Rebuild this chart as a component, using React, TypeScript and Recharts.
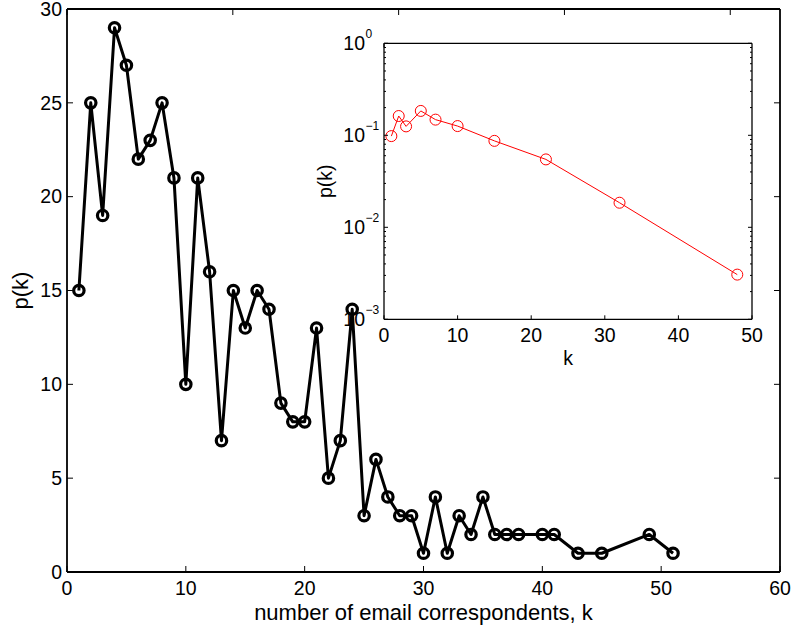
import React from 'react';
import { LineChart, Line, XAxis, YAxis, CartesianGrid, Label } from 'recharts';

// ---- Main chart data ----
const mainK = [1, 2, 3, 4, 5, 6, 7, 8, 9, 10, 11, 12, 13, 14, 15, 16, 17, 18, 19, 20, 21, 22, 23, 24, 25, 26, 27, 28, 29, 30, 31, 32, 33, 34, 35, 36, 37, 38, 40, 41, 43, 45, 49, 51];
const mainCount = [15, 25, 19, 29, 27, 22, 23, 25, 21, 10, 21, 16, 7, 15, 13, 15, 14, 9, 8, 8, 13, 5, 7, 14, 3, 6, 4, 3, 3, 1, 4, 1, 3, 2, 4, 2, 2, 2, 2, 2, 1, 1, 2, 1];
const mainXTicks = [0, 10, 20, 30, 40, 50, 60];
const mainYTicks = [0, 5, 10, 15, 20, 25, 30];

// ---- Inset data ----
const insetK = [1, 2, 3, 5, 7, 10, 15, 22, 32, 48];
const insetPk = [0.098, 0.162, 0.125, 0.184, 0.148, 0.126, 0.087, 0.0547, 0.0185, 0.00306];
const insetXTicks = [0, 10, 20, 30, 40, 50];
const insetYTicks = [
  0.001, 0.002, 0.003, 0.004, 0.005, 0.006, 0.007, 0.008, 0.009,
  0.01, 0.02, 0.03, 0.04, 0.05, 0.06, 0.07, 0.08, 0.09,
  0.1, 0.2, 0.3, 0.4, 0.5, 0.6, 0.7, 0.8, 0.9, 1,
];

const mainData = mainK.map((k, i) => ({ k, count: mainCount[i] }));
const insetData = insetK.map((k, i) => ({ k, pk: insetPk[i] }));

const FONT = '"Liberation Sans", Arial, Helvetica, sans-serif';
const TICK_FS = 19.5;

const isMajor = (v: number) => {
  const l = Math.log10(v);
  return Math.abs(l - Math.round(l)) < 1e-6;
};

// ---- tick renderers (inward tick marks, outward labels) ----
const MainXTick = (p: any) => (
  <g>
    <line x1={p.x} y1={p.y} x2={p.x} y2={p.y - 6} stroke="#000" strokeWidth={1} />
    <text x={p.x} y={p.y + 23} textAnchor="middle" fontSize={TICK_FS} fontFamily={FONT} fill="#000">
      {p.payload.value}
    </text>
  </g>
);
const MainTopTick = (p: any) => (
  <line x1={p.x} y1={p.y} x2={p.x} y2={p.y + 6} stroke="#000" strokeWidth={1} />
);
const MainYTick = (p: any) => (
  <g>
    <line x1={p.x} y1={p.y} x2={p.x + 6} y2={p.y} stroke="#000" strokeWidth={1} />
    <text x={p.x - 5} y={p.y + 6.8} textAnchor="end" fontSize={TICK_FS} fontFamily={FONT} fill="#000">
      {p.payload.value}
    </text>
  </g>
);
const MainRightTick = (p: any) => (
  <line x1={p.x} y1={p.y} x2={p.x - 6} y2={p.y} stroke="#000" strokeWidth={1} />
);

const InsetXTick = (p: any) => (
  <g>
    <line x1={p.x} y1={p.y} x2={p.x} y2={p.y - 4} stroke="#000" strokeWidth={1} />
    <text x={p.x} y={p.y + 22.7} textAnchor="middle" fontSize={TICK_FS} fontFamily={FONT} fill="#000">
      {p.payload.value}
    </text>
  </g>
);
const InsetTopTick = (p: any) => (
  <line x1={p.x} y1={p.y} x2={p.x} y2={p.y + 4} stroke="#000" strokeWidth={1} />
);
const InsetYTick = (p: any) => {
  const v = p.payload.value;
  const major = isMajor(v);
  const e = Math.round(Math.log10(v));
  return (
    <g>
      <line x1={p.x} y1={p.y} x2={p.x + (major ? 4 : 2)} y2={p.y} stroke="#000" strokeWidth={1} />
      {major && (
        <text x={p.x - 19} y={p.y + 7} textAnchor="end" fontSize={TICK_FS} fontFamily={FONT} fill="#000">
          10
        </text>
      )}
      {major && (
        <text x={p.x - 18.5} y={p.y - 5} textAnchor="start" fontSize={12} fontFamily={FONT} fill="#000">
          {e < 0 ? '\u2212' + Math.abs(e) : String(e)}
        </text>
      )}
    </g>
  );
};
const InsetRightTick = (p: any) => {
  const major = isMajor(p.payload.value);
  return <line x1={p.x} y1={p.y} x2={p.x - (major ? 4 : 2)} y2={p.y} stroke="#000" strokeWidth={1} />;
};

const MAIN_AXIS = { stroke: '#000', strokeWidth: 1.8 };
const INSET_AXIS = { stroke: '#000', strokeWidth: 1.3 };

export default function App() {
  return (
    <div style={{ position: 'absolute', left: 0, top: 0, width: 791, height: 626, background: '#fff' }}>
      <LineChart width={791} height={626} data={mainData} margin={{ top: 8, right: 10, left: 0, bottom: 0 }}>
        <XAxis
          dataKey="k"
          type="number"
          domain={[0, 60]}
          ticks={mainXTicks}
          interval={0}
          height={54}
          tickSize={0}
          tickMargin={0}
          tickLine={false}
          axisLine={MAIN_AXIS}
          tick={MainXTick}
          allowDataOverflow
        >
          <Label
            content={(lp: any) => {
              const vb = lp.viewBox || { x: 67, y: 572, width: 713, height: 54 };
              return (
                <text x={vb.x + vb.width / 2} y={vb.y + 48} textAnchor="middle" fontSize={22} fontFamily={FONT} fill="#000">
                  number of email correspondents, k
                </text>
              );
            }}
          />
        </XAxis>
        <XAxis
          xAxisId="top"
          orientation="top"
          type="number"
          domain={[0, 60]}
          ticks={mainXTicks}
          interval={0}
          height={1}
          tickSize={0}
          tickMargin={0}
          tickLine={false}
          axisLine={MAIN_AXIS}
          tick={MainTopTick}
          allowDataOverflow
        />
        <YAxis
          type="number"
          domain={[0, 30]}
          ticks={mainYTicks}
          interval={0}
          width={67}
          tickSize={0}
          tickMargin={0}
          tickLine={false}
          axisLine={MAIN_AXIS}
          tick={MainYTick}
          allowDataOverflow
        >
          <Label
            content={(lp: any) => {
              const vb = lp.viewBox || { x: 0, y: 9, width: 67, height: 563 };
              const cx = vb.x + 28;
              const cy = vb.y + vb.height / 2;
              return (
                <text x={cx} y={cy} transform={`rotate(-90, ${cx}, ${cy})`} textAnchor="middle" fontSize={22} fontFamily={FONT} fill="#000">
                  p(k)
                </text>
              );
            }}
          />
        </YAxis>
        <YAxis
          yAxisId="right"
          orientation="right"
          type="number"
          domain={[0, 30]}
          ticks={mainYTicks}
          interval={0}
          width={1}
          tickSize={0}
          tickMargin={0}
          tickLine={false}
          axisLine={MAIN_AXIS}
          tick={MainRightTick}
          allowDataOverflow
        />
        <Line
          type="linear"
          dataKey="count"
          stroke="#000"
          strokeWidth={3}
          strokeLinejoin="round"
          dot={{ r: 5.2, stroke: '#000', strokeWidth: 3.2, fill: 'none' }}
          activeDot={false}
          isAnimationActive={false}
        />
      </LineChart>

      <div style={{ position: 'absolute', left: 300, top: 10, width: 470, height: 380 }}>
        <LineChart width={470} height={380} data={insetData} margin={{ top: 32.3, right: 17, left: 0, bottom: 0 }}>
          <CartesianGrid horizontal={false} vertical={false} fill="#fff" stroke="none" />
          <XAxis
            dataKey="k"
            type="number"
            domain={[0, 50]}
            ticks={insetXTicks}
            interval={0}
            height={70.7}
            tickSize={0}
            tickMargin={0}
            tickLine={false}
            axisLine={INSET_AXIS}
            tick={InsetXTick}
            allowDataOverflow
          >
            <Label
              content={(lp: any) => {
                const vb = lp.viewBox || { x: 84, y: 309.3, width: 368, height: 70.7 };
                return (
                  <text x={vb.x + vb.width / 2} y={vb.y + 45.7} textAnchor="middle" fontSize={19.5} fontFamily={FONT} fill="#000">
                    k
                  </text>
                );
              }}
            />
          </XAxis>
          <XAxis
            xAxisId="top"
            orientation="top"
            type="number"
            domain={[0, 50]}
            ticks={insetXTicks}
            interval={0}
            height={1}
            tickSize={0}
            tickMargin={0}
            tickLine={false}
            axisLine={INSET_AXIS}
            tick={InsetTopTick}
            allowDataOverflow
          />
          <YAxis
            type="number"
            scale="log"
            domain={[0.001, 1]}
            ticks={insetYTicks}
            interval={0}
            width={84}
            tickSize={0}
            tickMargin={0}
            tickLine={false}
            axisLine={INSET_AXIS}
            tick={InsetYTick}
            allowDataOverflow
          >
            <Label
              content={(lp: any) => {
                const vb = lp.viewBox || { x: 0, y: 33.3, width: 84, height: 276 };
                const cx = vb.x + 32;
                const cy = vb.y + vb.height / 2;
                return (
                  <text x={cx} y={cy} transform={`rotate(-90, ${cx}, ${cy})`} textAnchor="middle" fontSize={19.5} fontFamily={FONT} fill="#000">
                    p(k)
                  </text>
                );
              }}
            />
          </YAxis>
          <YAxis
            yAxisId="right"
            orientation="right"
            type="number"
            scale="log"
            domain={[0.001, 1]}
            ticks={insetYTicks}
            interval={0}
            width={1}
            tickSize={0}
            tickMargin={0}
            tickLine={false}
            axisLine={INSET_AXIS}
            tick={InsetRightTick}
            allowDataOverflow
          />
          <Line
            type="linear"
            dataKey="pk"
            stroke="#ff0000"
            strokeWidth={1}
            dot={{ r: 5.5, stroke: '#ff0000', strokeWidth: 1, fill: 'none' }}
            activeDot={false}
            isAnimationActive={false}
          />
        </LineChart>
      </div>
    </div>
  );
}
